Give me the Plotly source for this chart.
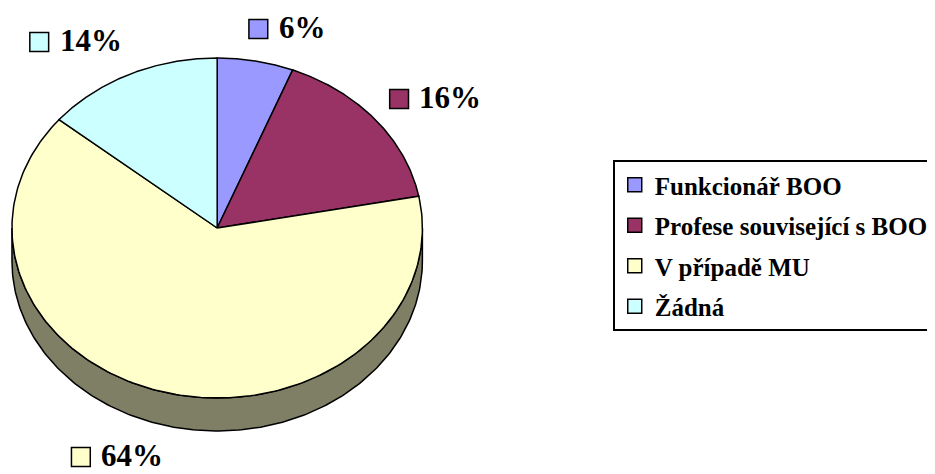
import numpy as np
import plotly.graph_objects as go

# ---- data ----
categories = ["Funkcionář BOO", "Profese související s BOO", "V případě MU", "Žádná"]
values = [6, 16, 64, 14]
label_texts = ["6%", "16%", "64%", "14%"]
colors = ["#9999FF", "#993366", "#FFFFCC", "#CCFFFF"]

# ---- layout / geometry (screen-pixel units on hidden axes) ----
VW, VH = 935, 474          # browser window
OFF = 8                    # default page body margin
W, H = VW - OFF, VH - OFF  # figure size so it fits the window exactly
CX, CY, RX, RY, DEPTH = 219, 228, 207, 170, 33
label_pos = [(251, 29), (393, 99), (72, 457), (30, 42)]  # key-left x, centre y
FONT = "Liberation Serif"


def darken(hexc, f=0.5):
    h = hexc.lstrip("#")
    r, g, b = (int(h[i:i + 2], 16) for i in (0, 2, 4))
    return "rgb(%d,%d,%d)" % (r * f, g * f, b * f)


def arc(a0, a1, dy=0.0, n=200):
    t = np.radians(np.linspace(a0, a1, n))
    return CX + RX * np.sin(t), CY - RY * np.cos(t) + dy


total = float(sum(values))
bounds = np.concatenate([[0], np.cumsum(values)]) / total * 360.0

fig = go.Figure()

# side walls (front half only)
for i, c in enumerate(colors):
    lo, hi = max(bounds[i], 90), min(bounds[i + 1], 270)
    if lo < hi:
        xt, yt = arc(lo, hi)
        xb, yb = arc(hi, lo, DEPTH)
        fig.add_trace(go.Scatter(
            x=np.concatenate([xt, xb, xt[:1]]), y=np.concatenate([yt, yb, yt[:1]]),
            mode="lines", fill="toself", fillcolor=darken(c),
            line=dict(color="black", width=1.5), showlegend=False, hoverinfo="skip"))

# top faces
for i, c in enumerate(colors):
    xa, ya = arc(bounds[i], bounds[i + 1])
    fig.add_trace(go.Scatter(
        x=np.concatenate([[CX], xa, [CX]]), y=np.concatenate([[CY], ya, [CY]]),
        mode="lines", fill="toself", fillcolor=c,
        line=dict(color="black", width=1.5), showlegend=False,
        name=categories[i], hoverinfo="name"))

# legend entries
for i, c in enumerate(colors):
    fig.add_trace(go.Scatter(
        x=[None], y=[None], mode="markers", name=categories[i], legendgroup=str(i),
        marker=dict(symbol="square", size=14, color=c, line=dict(color="black", width=1.5))))

# data labels with keys
for i, (kx, ky) in enumerate(label_pos):
    fig.add_shape(type="rect", xref="x", yref="y", x0=kx, x1=kx + 19, y0=ky - 9.5, y1=ky + 9.5,
                  fillcolor=colors[i], line=dict(color="black", width=1.5))
    fig.add_annotation(x=kx + 28, y=ky - 2, xref="x", yref="y", text=label_texts[i],
                       showarrow=False, xanchor="left", yanchor="middle", height=28,
                       font=dict(family=FONT, size=31, color="black", weight="bold"))

fig.update_layout(
    width=W, height=H, margin=dict(l=0, r=0, t=0, b=0),
    paper_bgcolor="white", plot_bgcolor="white",
    xaxis=dict(range=[OFF, VW], visible=False, fixedrange=True),
    yaxis=dict(range=[VH, OFF], visible=False, fixedrange=True),
    showlegend=True,
    legend=dict(x=(618 - OFF) / W, y=1 - (160 - OFF) / H, xanchor="left", yanchor="top",
                bgcolor="white", bordercolor="black", borderwidth=2,
                tracegroupgap=5, font=dict(family=FONT, size=25, color="black", weight="bold")),
)

fig.write_html("out.html")
